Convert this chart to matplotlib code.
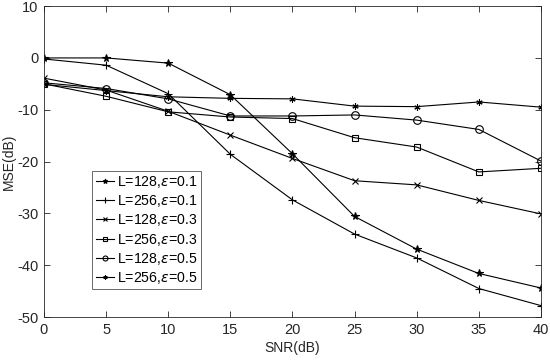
import matplotlib
matplotlib.use("Agg")
import matplotlib.pyplot as plt

plt.rcParams['font.family'] = ['Liberation Sans', 'DejaVu Sans']
plt.rcParams['mathtext.fontset'] = 'dejavusans'
plt.rcParams['axes.unicode_minus'] = False

snr = [0, 5, 10, 15, 20, 25, 30, 35, 40]
labels = [r'L=128,$\epsilon$=0.1', r'L=256,$\epsilon$=0.1', r'L=128,$\epsilon$=0.3',
          r'L=256,$\epsilon$=0.3', r'L=128,$\epsilon$=0.5', r'L=256,$\epsilon$=0.5']
l128_e01 = [0.0, 0.0, -1.0, -7.1, -18.5, -30.6, -36.9, -41.6, -44.4]
l256_e01 = [-0.2, -1.4, -6.9, -18.6, -27.4, -34.0, -38.6, -44.5, -47.8]
l128_e03 = [-3.9, -6.2, -10.3, -14.9, -19.4, -23.7, -24.5, -27.5, -30.1]
l256_e03 = [-5.0, -7.4, -10.4, -11.4, -11.7, -15.4, -17.2, -22.0, -21.3]
l128_e05 = [-4.8, -5.9, -7.9, -11.2, -11.2, -11.0, -12.0, -13.8, -19.9]
l256_e05 = [-5.1, -6.3, -7.5, -7.8, -7.9, -9.3, -9.4, -8.5, -9.5]

series = [l128_e01, l256_e01, l128_e03, l256_e03, l128_e05, l256_e05]
markers = ['*', '+', 'x', 's', 'o', (6, 2, 0)]
msizes = [5.5, 6, 4, 4.5, 5.5, 4.5]

fig = plt.figure(figsize=(5.5, 3.6), dpi=100)
ax = fig.add_axes([0.08, 0.1194, 0.9036, 0.8636])
for ys, m, ms, lab in zip(series, markers, msizes, labels):
    ax.plot(snr, ys, color='black', linewidth=0.8, marker=m, markersize=ms,
            markerfacecolor='none' if m in ('s', 'o') else 'black',
            markeredgecolor='black', markeredgewidth=0.8, label=lab)

ax.set_xlim(0, 40)
ax.set_ylim(-50, 10)
ax.set_xticks(range(0, 41, 5))
ax.set_yticks(range(-50, 11, 10))
ax.tick_params(direction='in', top=True, right=True, labelsize=10.5, length=4,
               color='#262626', labelcolor='#262626', width=0.6, pad=4)
for s in ax.spines.values():
    s.set_color('#262626')
    s.set_linewidth(0.6)
ax.set_xlabel('SNR(dB)', fontsize=10, color='#262626', labelpad=3)
ax.set_ylabel('MSE(dB)', fontsize=10, color='#262626', labelpad=1)

leg = ax.legend(loc='lower left', bbox_to_anchor=(0.097, 0.089), fontsize=10.2,
                frameon=True, fancybox=False, edgecolor='#262626',
                handlelength=1.3, handletextpad=0.2, borderpad=0.25,
                labelspacing=0.22, markerscale=0.65, borderaxespad=0)
leg.get_frame().set_linewidth(0.6)

fig.savefig('out.png', dpi=100)
